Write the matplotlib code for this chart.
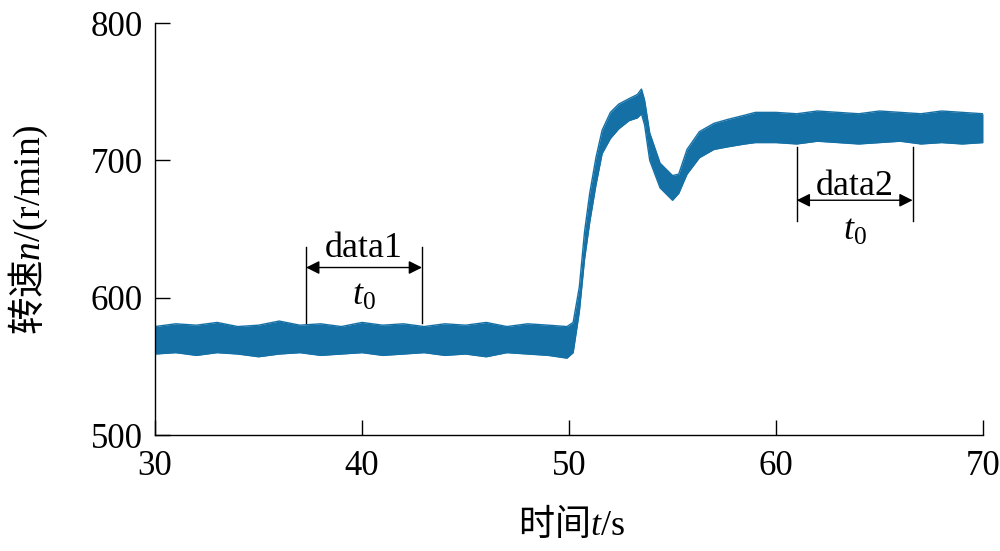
import matplotlib
matplotlib.use('Agg')
import matplotlib.pyplot as plt

plt.rcParams['font.family'] = ['Liberation Serif', 'Noto Sans CJK SC']
plt.rcParams['mathtext.fontset'] = 'custom'
plt.rcParams['mathtext.rm'] = 'Liberation Serif'
plt.rcParams['mathtext.it'] = 'Liberation Serif:italic'

# time (s) and upper / lower edge of the noisy speed band (r/min)
t = [30, 31, 32, 33, 34, 35, 36, 37, 38, 39, 40, 41, 42, 43, 44, 45, 46, 47, 48, 49, 49.9,
     50.2, 50.5, 50.75, 51.0, 51.3, 51.6, 52.0, 52.4, 52.9, 53.3, 53.5, 53.65, 53.9, 54.4,
     55.0, 55.3, 55.7, 56.3, 57.0, 57.7, 58.5, 59,
     60, 61, 62, 63, 64, 65, 66, 67, 68, 69, 70]
n_hi = [579, 581, 580, 582, 579, 580, 583, 580, 581, 579, 582, 580, 581, 579, 581, 580, 582, 579, 581, 580, 579,
        582, 608, 648, 676, 702, 722, 735, 741, 745, 748, 752, 744, 720, 698,
        689, 690, 708, 721, 727, 730, 733, 735,
        735, 734, 736, 735, 734, 736, 735, 734, 736, 735, 734]
n_lo = [559, 560, 558, 560, 559, 557, 559, 560, 558, 559, 560, 558, 559, 560, 558, 559, 557, 560, 559, 558, 556,
        560, 590, 628, 655, 682, 705, 716, 723, 729, 731, 734, 726, 700, 680,
        671, 676, 690, 702, 708, 710, 712, 713,
        713, 712, 714, 713, 712, 713, 714, 712, 713, 712, 713]

# annotation brackets
names = ['data1', 'data2']
t_start = [37.3, 61.0]
t_end = [42.9, 66.6]
line_bot = [581.5, 656]
line_top = [636.7, 709.5]
arrow_y = [622, 671]
name_y = [630, 674.5]
t0_y = [594.5, 642]

blue = '#1570a6'

fig = plt.figure(figsize=(10, 5.51), dpi=100)
ax = fig.add_axes([0.155, 0.2105, 0.828, 0.7475])

ax.fill_between(t, n_lo, n_hi, color=blue, lw=0)
ax.plot(t, n_hi, color=blue, lw=1)
ax.plot(t, n_lo, color=blue, lw=1)

for i in range(len(names)):
    a, b = t_start[i], t_end[i]
    ax.plot([a, a], [line_bot[i], line_top[i]], color='k', lw=1)
    ax.plot([b, b], [line_bot[i], line_top[i]], color='k', lw=1)
    ax.annotate('', xy=(a, arrow_y[i]), xytext=(b, arrow_y[i]),
                arrowprops=dict(arrowstyle='<|-|>', color='k', lw=1,
                                shrinkA=0, shrinkB=0, mutation_scale=20))
    ax.text((a + b) / 2, name_y[i], names[i], ha='center', va='baseline', fontsize=26)
    ax.text((a + b) / 2, t0_y[i], '$t_0$', ha='center', va='baseline', fontsize=26)

ax.set_xlim(30, 70)
ax.set_ylim(500, 800)
ax.set_xticks([30, 40, 50, 60, 70])
ax.set_yticks([500, 600, 700, 800])
ax.spines['top'].set_visible(False)
ax.spines['right'].set_visible(False)
for s in ['left', 'bottom']:
    ax.spines[s].set_linewidth(1)
ax.tick_params(direction='in', length=10.5, width=1, labelsize=25)
ax.tick_params(axis='x', pad=11)
ax.tick_params(axis='y', pad=9)

fig.text(0.028, 1 - 230 / 551, r'转速$n/(\mathrm{r/min})$', rotation=90,
         ha='center', va='center', family='Noto Sans CJK SC', fontsize=27)
fig.text(0.572, 1 - 524 / 551, r'时间$t/\mathrm{s}$',
         ha='center', va='center', family='Noto Sans CJK SC', fontsize=26)

fig.savefig('out.png', dpi=100)
